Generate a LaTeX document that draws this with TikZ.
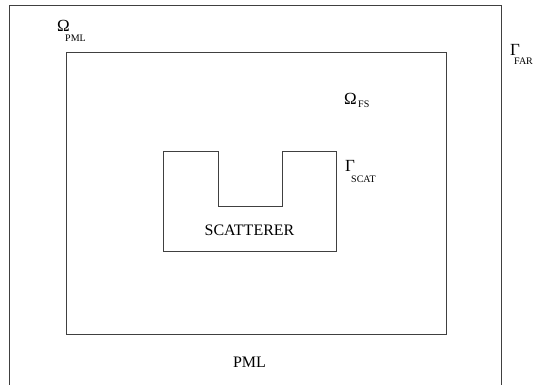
\documentclass[tikz,border=0pt]{standalone}
\usepackage{fontspec}
\setmainfont{Liberation Serif}
\usetikzlibrary{positioning}

\begin{document}
\begin{tikzpicture}[
    x=1pt, y=-1pt,
    wall/.style={draw=black!75,line width=0.8pt},
    region/.style={wall,rectangle,inner sep=0pt},
    lbl/.style={font=\fontsize{16}{18}\selectfont,inner sep=0pt},
    sym/.style={font=\fontsize{17}{19}\selectfont,inner sep=0pt,anchor=base west},
    sub/.style={font=\fontsize{10}{12}\selectfont,inner sep=0pt,anchor=base west}
]
\useasboundingbox (0,0) rectangle (539,385);

% PML layer (open at the bottom)
\coordinate (pmlbl) at (9.5,385);
\coordinate (pmlbr) at (501,385);
\draw[wall] (pmlbl) |- (501,5) -- (pmlbr);

% free space region bounded by Gamma_FAR
\node[region,minimum width=380pt,minimum height=282pt] (fs) at (256,193) {};

% scatterer with a notch on top
\coordinate (sc) at (163,151);
\draw[wall] (sc) -- (218,151) -- (218,206) -- (282,206) -- (282,151)
    -- (336,151) -- (336,251) -- (163,251) -- cycle;
\node[lbl] (scat) at (249.5,230) {SCATTERER};

% labels
\node[lbl] (pml) at (249.5,362) {PML};

\node[sym] (opml) at (57,32) {Ω};
\node[sub] (opmls) at (65,42) {PML};

\node[sym] (ofs) at (344,105) {Ω};
\node[sub] (ofss) at (358,108) {FS};

\node[sym] (gfar) at (510,56) {Γ};
\node[sub] (gfars) at (514,65) {FAR};

\node[sym] (gscat) at (345,172) {Γ};
\node[sub] (gscats) at (351,183) {SCAT};
\end{tikzpicture}
\end{document}
